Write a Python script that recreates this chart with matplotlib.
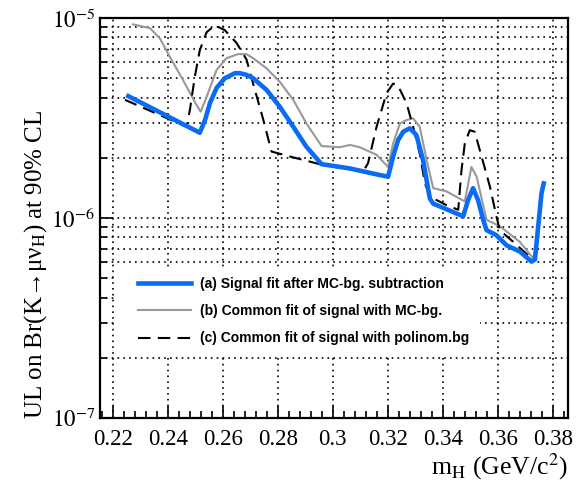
import math
import matplotlib
matplotlib.use("Agg")
import matplotlib.pyplot as plt
from matplotlib.patches import Rectangle
from matplotlib.ticker import LogLocator, MultipleLocator, NullFormatter, FuncFormatter

plt.rcParams['font.family'] = ['Liberation Serif', 'DejaVu Serif']
plt.rcParams['mathtext.fontset'] = 'stix'

# (a) signal fit after MC-bg. subtraction
xa = [0.2256, 0.2516, 0.2535, 0.2553, 0.2577, 0.2607, 0.2644, 0.2662, 0.2686, 0.2710,
      0.2759, 0.2807, 0.2856, 0.2904, 0.2959, 0.3062, 0.3171, 0.3201, 0.3219, 0.3237,
      0.3256, 0.3280, 0.3304, 0.3328, 0.3353, 0.3365, 0.3474, 0.3492, 0.3510, 0.3528,
      0.3547, 0.3559, 0.3595, 0.3632, 0.3680, 0.3723, 0.3735, 0.3747, 0.3759, 0.3767]
ya = [4.07e-6, 2.67e-6, 3.09e-6, 3.76e-6, 4.47e-6, 5.0e-6, 5.3e-6, 5.3e-6, 5.2e-6, 5.0e-6,
      4.37e-6, 3.6e-6, 2.86e-6, 2.27e-6, 1.86e-6, 1.77e-6, 1.64e-6, 1.61e-6, 2.03e-6, 2.45e-6,
      2.7e-6, 2.81e-6, 2.6e-6, 1.95e-6, 1.25e-6, 1.18e-6, 1.02e-6, 1.23e-6, 1.41e-6, 1.23e-6,
      9.8e-7, 8.7e-7, 8.2e-7, 7.3e-7, 6.8e-7, 6.05e-7, 6.2e-7, 9.1e-7, 1.33e-6, 1.49e-6]

# (b) common fit of signal with MC-bg.
xb = [0.2273, 0.2335, 0.2371, 0.2407, 0.2455, 0.2498, 0.2519, 0.2541, 0.2577, 0.2613,
      0.2655, 0.2686, 0.2710, 0.2759, 0.2807, 0.2856, 0.2904, 0.2959, 0.3025, 0.3062,
      0.3098, 0.3159, 0.3201, 0.3219, 0.3244, 0.3268, 0.3292, 0.3316, 0.3341, 0.3365,
      0.3413, 0.3480, 0.3504, 0.3523, 0.3559, 0.3607, 0.3680, 0.3728, 0.3741, 0.3753, 0.3767]
yb = [9.3e-6, 8.9e-6, 7.9e-6, 6.4e-6, 4.9e-6, 3.8e-6, 3.4e-6, 4.04e-6, 5.5e-6, 6.3e-6,
      6.6e-6, 6.6e-6, 6.3e-6, 5.6e-6, 4.8e-6, 3.9e-6, 2.97e-6, 2.29e-6, 2.26e-6, 2.32e-6,
      2.26e-6, 2.07e-6, 1.8e-6, 2.36e-6, 2.97e-6, 3.09e-6, 3.15e-6, 2.86e-6, 1.95e-6, 1.41e-6,
      1.36e-6, 1.21e-6, 1.8e-6, 1.61e-6, 9.8e-7, 9.1e-7, 7.6e-7, 6.3e-7, 7.2e-7, 1.13e-6, 1.47e-6]

# (c) common fit of signal with polinom.bg
xc = [0.2244, 0.2468, 0.2480, 0.2498, 0.2516, 0.2541, 0.2571, 0.2607, 0.2650, 0.2686,
      0.2710, 0.2747, 0.2777, 0.2844, 0.2965, 0.3110, 0.3128, 0.3159, 0.3195, 0.3219,
      0.3237, 0.3268, 0.3292, 0.3316, 0.3335, 0.3353, 0.3413, 0.3456, 0.3468, 0.3480,
      0.3498, 0.3516, 0.3541, 0.3571, 0.3595, 0.3607, 0.3656, 0.3716, 0.3735, 0.3747,
      0.3759, 0.3767]
yc = [3.9e-6, 2.86e-6, 3.47e-6, 5.1e-6, 6.9e-6, 8.5e-6, 9.2e-6, 8.7e-6, 7.5e-6, 6.2e-6,
      4.7e-6, 3.1e-6, 2.15e-6, 2.03e-6, 1.84e-6, 1.71e-6, 1.88e-6, 2.86e-6, 4.2e-6, 4.7e-6,
      4.6e-6, 3.75e-6, 2.86e-6, 2.1e-6, 1.49e-6, 1.28e-6, 1.16e-6, 1.1e-6, 1.74e-6, 2.36e-6,
      2.75e-6, 2.7e-6, 2.03e-6, 1.44e-6, 1.02e-6, 8.7e-7, 7.6e-7, 6.4e-7, 6.3e-7, 9.1e-7,
      1.33e-6, 1.49e-6]

labels = ["(a) Signal fit after MC-bg. subtraction",
          "(b) Common fit of signal with MC-bg.",
          "(c) Common fit of signal with polinom.bg"]

fig = plt.figure(figsize=(5.82, 4.83), dpi=100)
ax = fig.add_axes([0.1718, 0.1346, 0.804, 0.828])

ax.plot(xa, ya, color='#0a6cf5', lw=3.3, label=labels[0], zorder=4, solid_joinstyle='round')
ax.plot(xb, yb, color='#999999', lw=1.5, label=labels[1], zorder=3)
ax.plot(xc, yc, color='black', lw=1.5, ls=(0, (6, 3.5)), label=labels[2], zorder=3)

ax.set_yscale('log')
ax.set_xlim(0.2153, 0.3855)
ax.set_ylim(1e-7, 1e-5)

ax.xaxis.set_major_locator(MultipleLocator(0.02))
ax.xaxis.set_minor_locator(MultipleLocator(0.004))
ax.xaxis.set_major_formatter(FuncFormatter(lambda v, p: ('%.2f' % v).rstrip('0').rstrip('.')))
ax.yaxis.set_major_locator(LogLocator(base=10, numticks=10))
ax.yaxis.set_minor_locator(LogLocator(base=10, subs=range(2, 10), numticks=20))
ax.yaxis.set_minor_formatter(NullFormatter())
ax.yaxis.set_major_formatter(FuncFormatter(lambda v, p: r'$10^{%d}$' % round(math.log10(v))))

ax.tick_params(which='both', direction='in', top=False, right=False, labelsize=16.5)
ax.tick_params(which='major', length=9, width=1.2)
ax.tick_params(which='minor', length=5, width=1.2)
ax.tick_params(axis='x', pad=8)
for s in ax.spines.values():
    s.set_linewidth(1.6)

dot = (0, (1, 2.5))
ax.grid(True, which='both', axis='y', color='black', lw=1.2, ls=dot)
ax.grid(True, which='major', axis='x', color='black', lw=1.2, ls=dot)
ax.set_axisbelow(True)

ax.set_xlabel(r'm$_{\mathrm{H}}$ (GeV/c$^{2}$)', fontsize=18.5, loc='right', labelpad=1)
ax.set_ylabel('UL on Br(K\u2192\u03bc\u03bd$_{\\mathrm{H}}$) at 90% CL', fontsize=18)
ax.yaxis.set_label_coords(-0.11, 0.385)

# white legend background hiding the grid
ax.add_patch(Rectangle((0.034, 0.16), 0.778, 0.215, transform=ax.transAxes,
                       facecolor='white', edgecolor='none', zorder=1))

leg = ax.legend(loc='upper left', bbox_to_anchor=(0.0812, 0.3525), frameon=False,
                borderpad=0, borderaxespad=0,
                prop={'family': 'Liberation Sans', 'weight': 'bold', 'size': 10},
                handlelength=3.8, handletextpad=0.65, labelspacing=0.95)
leg.set_zorder(5)

fig.savefig('out.png', dpi=100)
